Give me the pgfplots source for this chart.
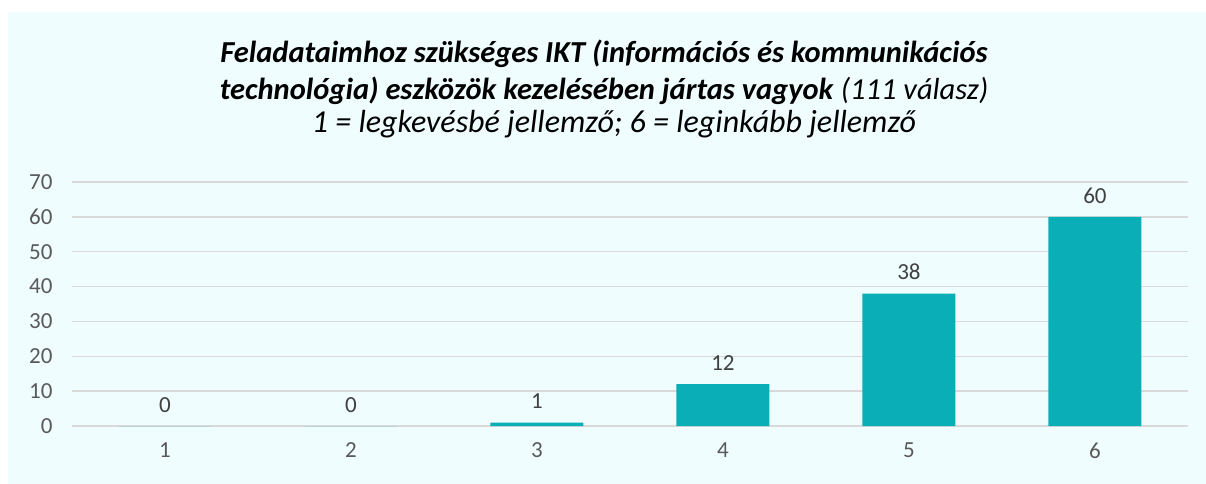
\documentclass[border=0pt]{standalone}
\usepackage{pgfplots}
\pgfplotsset{compat=1.18}
\usepackage{fontspec}
\setmainfont{Carlito}
\definecolor{bg}{HTML}{EFFDFE}
\definecolor{barc}{HTML}{09AEB7}
\definecolor{gridc}{HTML}{D9D9D9}
\definecolor{tickc}{HTML}{595959}
\definecolor{labc}{HTML}{404040}
\begin{document}
\begin{tikzpicture}[x=1pt,y=1pt]
\fill[white] (0,0) rectangle (1206,484);
\fill[bg] (8,0) rectangle (1206,472);
\begin{scope}[every node/.style={font=\fontsize{30.5}{36}\selectfont, anchor=base, inner sep=0pt}]
\node at (604,421) {\textbf{\textit{Feladataimhoz szükséges IKT (információs és kommunikációs}}};
\node at (604,384) {\textbf{\textit{technológia) eszközök kezelésében jártas vagyok}} \textit{(111 válasz)}};
\node[font=\fontsize{32}{36}\selectfont] at (614,351) {\textit{1 = legkevésbé jellemző; 6 = leginkább jellemző}};
\end{scope}
\begin{axis}[
    at={(72pt,58pt)}, anchor=south west,
    scale only axis, width=1116pt, height=244pt,
    xmin=0.5, xmax=6.5, ymin=0, ymax=70,
    xtick={1,...,6}, ytick={0,10,...,70},
    ymajorgrids, grid style={gridc, line width=1.5pt},
    axis line style={draw=none}, major tick length=0pt,
    /pgf/number format/assume math mode=true,
    tick label style={font=\fontsize{23}{23}\selectfont, text=tickc},
    xticklabel style={yshift=-13pt},
    yticklabel style={xshift=-16pt},
    ybar, bar width=93pt,
    nodes near coords,
    nodes near coords style={font=\fontsize{23}{23}\selectfont, text=labc, yshift=10pt},
]
\addplot[fill=barc, draw=none] coordinates {(1,0) (2,0) (3,1) (4,12) (5,38) (6,60)};
\end{axis}
\end{tikzpicture}
\end{document}
